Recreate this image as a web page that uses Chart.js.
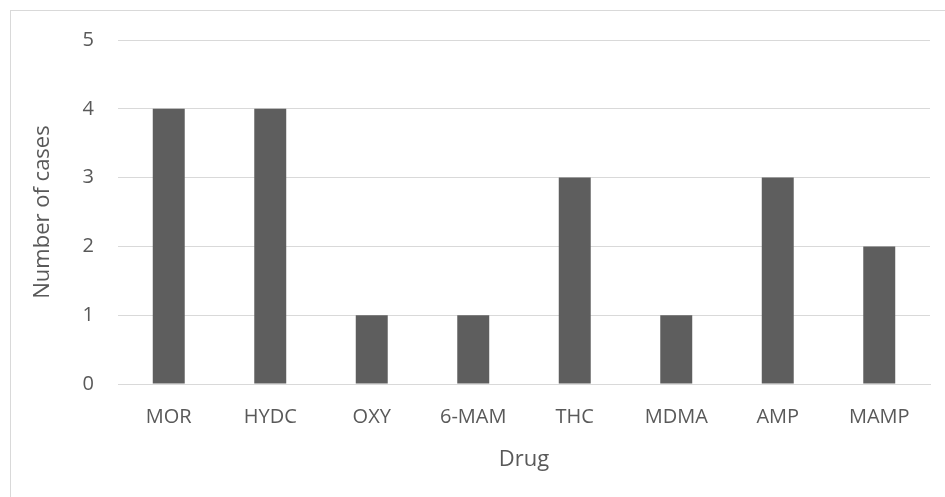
<!DOCTYPE html>
<html>
<head>
<meta charset="utf-8">
<script src="https://cdn.jsdelivr.net/npm/chart.js@4/dist/chart.umd.min.js"></script>
<style>
  html, body { margin: 0; padding: 0; background: #ffffff; }
  #wrap { position: relative; width: 945px; height: 497px; }
</style>
</head>
<body>
<div id="wrap"><canvas id="chart" width="945" height="497"></canvas></div>
<script>
// Drugs detected and number of cases for each
const drugs = ['MOR', 'HYDC', 'OXY', '6-MAM', 'THC', 'MDMA', 'AMP', 'MAMP'];
const cases = [4, 4, 1, 1, 3, 1, 3, 2];
const yTicks = [0, 1, 2, 3, 4, 5];

const TEXT = '#595959';
const GRID = '#d9d9d9';
const FONT = "'Open Sans', 'Liberation Sans', sans-serif";

// Light frame around the chart area
const framePlugin = {
  id: 'frame',
  beforeDraw(chart) {
    const ctx = chart.ctx;
    ctx.save();
    ctx.fillStyle = '#ffffff';
    ctx.fillRect(0, 0, chart.width, chart.height);
    ctx.strokeStyle = GRID;
    ctx.lineWidth = 1;
    ctx.strokeRect(10.5, 10.5, chart.width, chart.height);
    ctx.restore();
  }
};

new Chart(document.getElementById('chart'), {
  type: 'bar',
  data: {
    labels: drugs,
    datasets: [{
      data: cases,
      backgroundColor: '#5e5e5e',
      borderWidth: 0,
      barPercentage: 0.315,
      categoryPercentage: 1.0
    }]
  },
  options: {
    responsive: false,
    animation: false,
    devicePixelRatio: 1,
    layout: { padding: { top: 40, right: 15, left: 0, bottom: 0 } },
    plugins: {
      legend: { display: false },
      tooltip: { enabled: false }
    },
    scales: {
      x: {
        grid: { display: false, drawTicks: false },
        border: { display: true, color: GRID, width: 1 },
        ticks: {
          color: TEXT,
          font: { family: FONT, size: 20 },
          padding: 21,
          maxRotation: 0,
          autoSkip: false
        },
        title: {
          display: true,
          text: 'Drug',
          color: TEXT,
          font: { family: FONT, size: 22 },
          padding: { top: 0, bottom: 24 }
        },
        afterFit(scale) { scale.height = 113; }
      },
      y: {
        min: 0,
        max: 5,
        grid: { color: GRID, lineWidth: 1, drawTicks: false },
        border: { display: false },
        afterBuildTicks(scale) { scale.ticks = yTicks.map(v => ({ value: v })); },
        ticks: {
          color: TEXT,
          font: { family: FONT, size: 20 },
          padding: 24
        },
        title: {
          display: true,
          text: 'Number of cases',
          color: TEXT,
          font: { family: FONT, size: 22 },
          padding: { top: 30, bottom: 0 }
        },
        afterFit(scale) { scale.width = 118; }
      }
    }
  },
  plugins: [framePlugin]
});
</script>
</body>
</html>
